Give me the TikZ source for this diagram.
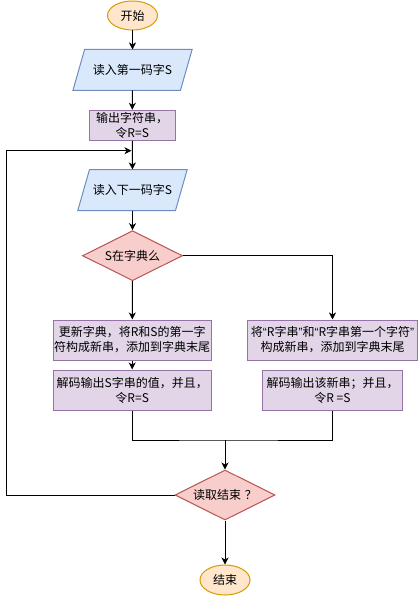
\documentclass[tikz,border=0pt]{standalone}
\usepackage{fontspec}
\setmainfont{Noto Sans CJK SC}
\newfontfamily\latq{Liberation Sans}
\usetikzlibrary{shapes.geometric,arrows.meta}
\pgfdeclarelayer{bg}
\pgfsetlayers{bg,main}
\definecolor{oF}{HTML}{FFE6CC}\definecolor{oD}{HTML}{D79B00}
\definecolor{bF}{HTML}{DAE8FC}\definecolor{bD}{HTML}{6C8EBF}
\definecolor{pF}{HTML}{E1D5E7}\definecolor{pD}{HTML}{9673A6}
\definecolor{rF}{HTML}{F8CECC}\definecolor{rD}{HTML}{B85450}
\tikzset{
  base/.style={line width=1pt, inner sep=0pt, align=center, font=\fontsize{12}{15}\selectfont},
  term/.style={base, ellipse, fill=oF, draw=oD, minimum width=50pt, minimum height=29pt},
  iobox/.style={base, rectangle, minimum height=40pt},
  ioshape/.style={line width=1pt, fill=bF, draw=bD, line join=miter},
  proc/.style={base, rectangle, fill=pF, draw=pD},
  dec/.style={base, diamond, aspect=2, fill=rF, draw=rD, minimum width=100pt, minimum height=50pt},
  conn/.style={line width=1pt, black},
  arr/.style={conn, -{Stealth[length=7pt,width=7pt,inset=2pt]}},
}
\begin{document}
\begin{tikzpicture}[x=1pt,y=-1pt]
\useasboundingbox (0,0) rectangle (418,596);
\node[term] (start) at (132.5,15.5) {开始};
\node[iobox, minimum width=106.5pt] (in1) at (132.5,70) {读入第一码字S};
\node[proc, minimum width=86pt, minimum height=30pt] (out1) at (132.2,125.3) {输出字符串，\\令R=S};
\node[iobox, minimum width=96.7pt] (in2) at (132.5,190) {读入下一码字S};
\begin{pgfonlayer}{bg}
\draw[ioshape] ([xshift=5.85pt]in1.north west) -- ([xshift=5.85pt]in1.north east) -- ([xshift=-5.85pt]in1.south east) -- ([xshift=-5.85pt]in1.south west) -- cycle;
\draw[ioshape] ([xshift=5.85pt]in2.north west) -- ([xshift=5.85pt]in2.north east) -- ([xshift=-5.85pt]in2.south east) -- ([xshift=-5.85pt]in2.south west) -- cycle;
\end{pgfonlayer}
\node[dec] (d1) at (132.5,255.7) {S在字典么};
\node[proc, minimum width=158pt, minimum height=40pt] (l1) at (132.2,340) {更新字典，将R和S的第一字\\符构成新串，添加到字典末尾};
\node[proc, minimum width=170pt, minimum height=40pt] (r1) at (332.5,340) {将{\latq “}R字串{\latq ”}和{\latq “}R字串第一个字符{\latq ”}\\构成新串，添加到字典末尾};
\node[proc, minimum width=158pt, minimum height=40pt] (l2) at (132.2,390) {解码输出S字串的值，并且，\\令R=S};
\node[proc, minimum width=140pt, minimum height=40pt] (r2) at (332.5,390) {解码输出该新串；并且，\\令R =S};
\node[dec] (d2) at (225,495) {读取结束\hspace{4pt}？};
\node[term, minimum height=30pt] (stop) at (225,580) {结束};
\coordinate (join) at (132.5,150.7);
\coordinate (merge) at (225,440);
\draw[arr] (start) -- (in1);
\draw[arr] (in1) -- (out1);
\draw[arr] (out1) -- (in2);
\draw[arr] (in2) -- (d1);
\draw[arr] (d1) -- (l1);
\draw[arr] (d1.east) -| (r1.north);
\draw[arr] (l1) -- (l2);
\draw[conn] (l2.south) |- (merge) -| (r2.south);
\draw[arr] (merge) -- (d2.north);
\draw[arr] (d2) -- (stop);
\draw[arr] (d2.west) -- ++(-167.7,0) |- ([xshift=-1pt]join);
\end{tikzpicture}
\end{document}
